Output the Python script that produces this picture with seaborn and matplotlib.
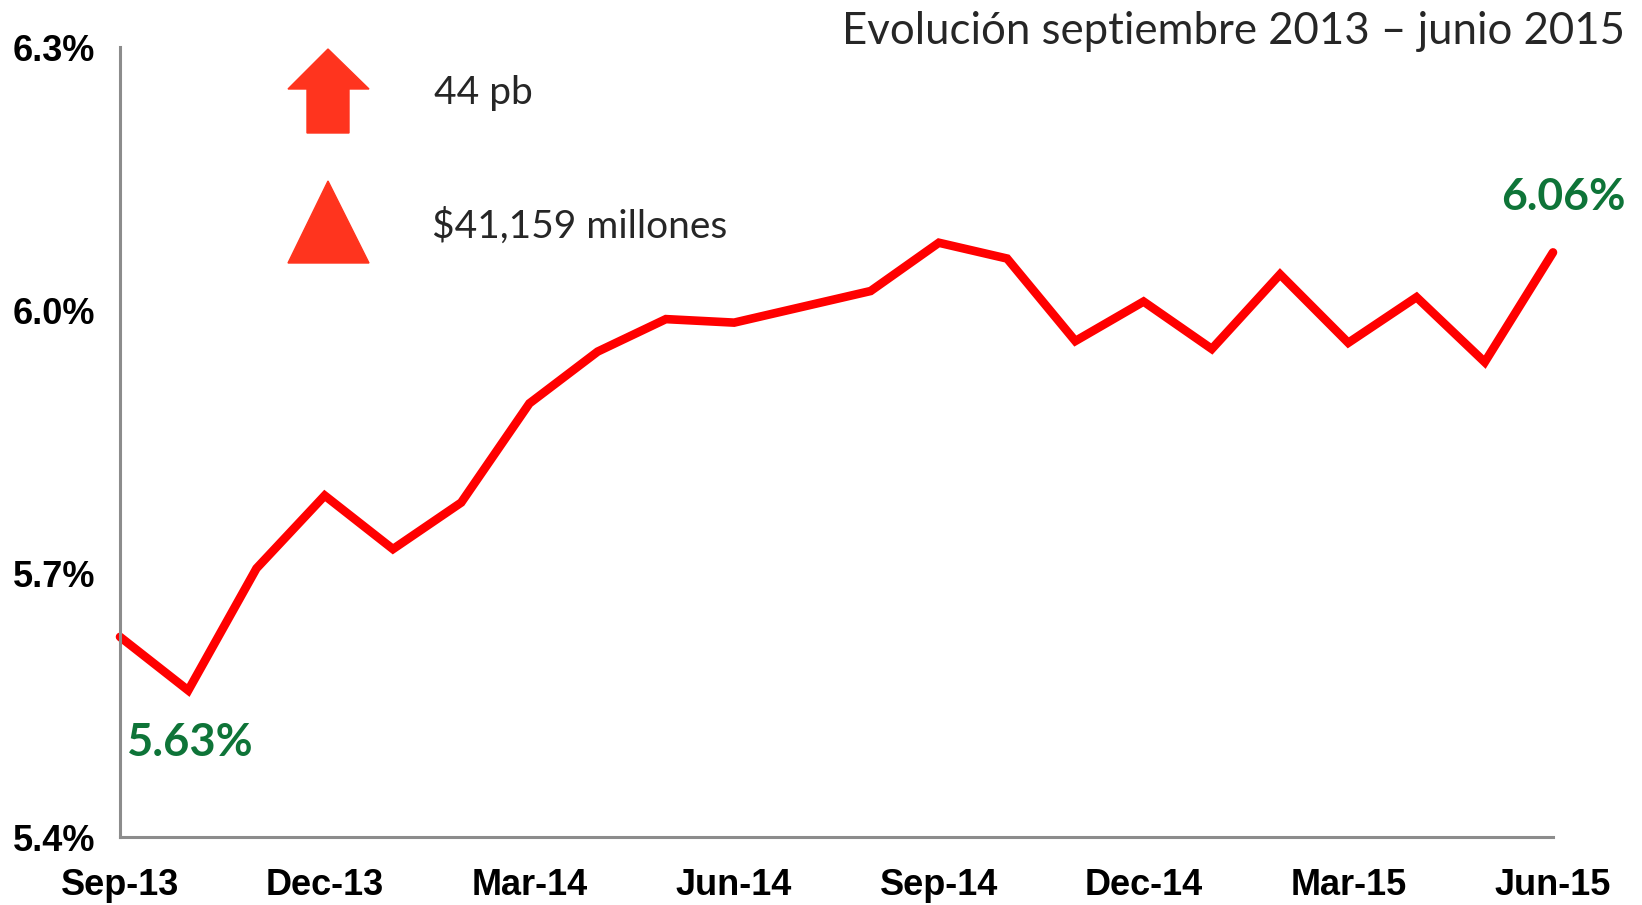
import matplotlib
matplotlib.use('Agg')
import matplotlib.pyplot as plt
from matplotlib.patches import Polygon
import seaborn as sns
import pandas as pd

# =======================================================================================================
# Data
# =======================================================================================================

months = ['Sep-13', 'Oct-13', 'Nov-13', 'Dec-13', 'Jan-14', 'Feb-14', 'Mar-14', 'Apr-14',
          'May-14', 'Jun-14', 'Jul-14', 'Aug-14', 'Sep-14', 'Oct-14', 'Nov-14', 'Dec-14',
          'Jan-15', 'Feb-15', 'Mar-15', 'Apr-15', 'May-15', 'Jun-15']
rate = [5.628, 5.567, 5.706, 5.789, 5.728, 5.781, 5.894, 5.953, 5.990, 5.986, 6.004,
        6.022, 6.077, 6.059, 5.965, 6.010, 5.956, 6.041, 5.963, 6.015, 5.941, 6.066]
tick_months = ['Sep-13', 'Dec-13', 'Mar-14', 'Jun-14', 'Sep-14', 'Dec-14', 'Mar-15', 'Jun-15']
y_ticks = [5.4, 5.7, 6.0, 6.3]
title = 'Evolución septiembre 2013 – junio 2015'
start_label = '5.63%'
end_label = '6.06%'
legend_texts = ['44 pb', '$41,159 millones']

df = pd.DataFrame({'month': months, 'rate': rate})
df['pos'] = range(len(df))

# =======================================================================================================
# Plot
# =======================================================================================================

sns.set_style('white')
W, H = 1642, 905
fig = plt.figure(figsize=(W / 100, H / 100), dpi=100)
ax = fig.add_axes([120 / W, 1 - 837 / H, (1553 - 120) / W, (837 - 47) / H])

sns.lineplot(data=df, x='pos', y='rate', ax=ax, color='#ff0000', linewidth=6.2,
             solid_joinstyle='miter', clip_on=False)

ax.set_xlim(0, len(months) - 1)
ax.set_ylim(5.4, 6.3)
ax.set_xticks([months.index(m) for m in tick_months])
ax.set_xticklabels(tick_months)
ax.set_yticks(y_ticks)
ax.set_yticklabels([f'{v:.1f}%' for v in y_ticks])
ax.set_xlabel('')
ax.set_ylabel('')

for lab in ax.get_xticklabels() + ax.get_yticklabels():
    lab.set_fontfamily(['Liberation Sans', 'DejaVu Sans'])
    lab.set_fontweight('bold')
    lab.set_fontsize(26)
    lab.set_color('black')

sns.despine(ax=ax)
for s in ['left', 'bottom']:
    ax.spines[s].set_color('#8c8c8c')
    ax.spines[s].set_linewidth(2.2)
ax.tick_params(axis='both', which='major', direction='out', color='#8c8c8c', width=2.2)
ax.tick_params(axis='x', length=10, pad=12)
ax.tick_params(axis='y', length=8, pad=10)
ax.grid(False)

# texts
calibri = ['Lato', 'DejaVu Sans']
fig.text(1625 / W, 1 - 31 / H, title, ha='right', va='center', fontsize=31.5, family=calibri)
fig.text(1626 / W, 1 - 197 / H, end_label, ha='right', va='center', fontsize=32,
         family=calibri, weight='bold', color='#0e7438')
fig.text(127 / W, 1 - 743 / H, start_label, ha='left', va='center', fontsize=32.5,
         family=calibri, weight='bold', color='#0e7438')
fig.text(434 / W, 1 - 93 / H, legend_texts[0], ha='left', va='center', fontsize=28, family=calibri)
fig.text(432 / W, 1 - 226 / H, legend_texts[1], ha='left', va='center', fontsize=28, family=calibri)

# up arrow and triangle markers
def px(x, y):
    return (x / W, 1 - y / H)

arrow = [px(288, 89), px(328, 49), px(369, 89), px(349, 89), px(349, 133), px(307, 133), px(307, 89)]
tri = [px(288, 263), px(328, 181), px(369, 263)]
fig.patches.append(Polygon(arrow, closed=True, transform=fig.transFigure, color='#ff341e'))
fig.patches.append(Polygon(tri, closed=True, transform=fig.transFigure, color='#ff341e'))

fig.savefig('out.png', dpi=100)
